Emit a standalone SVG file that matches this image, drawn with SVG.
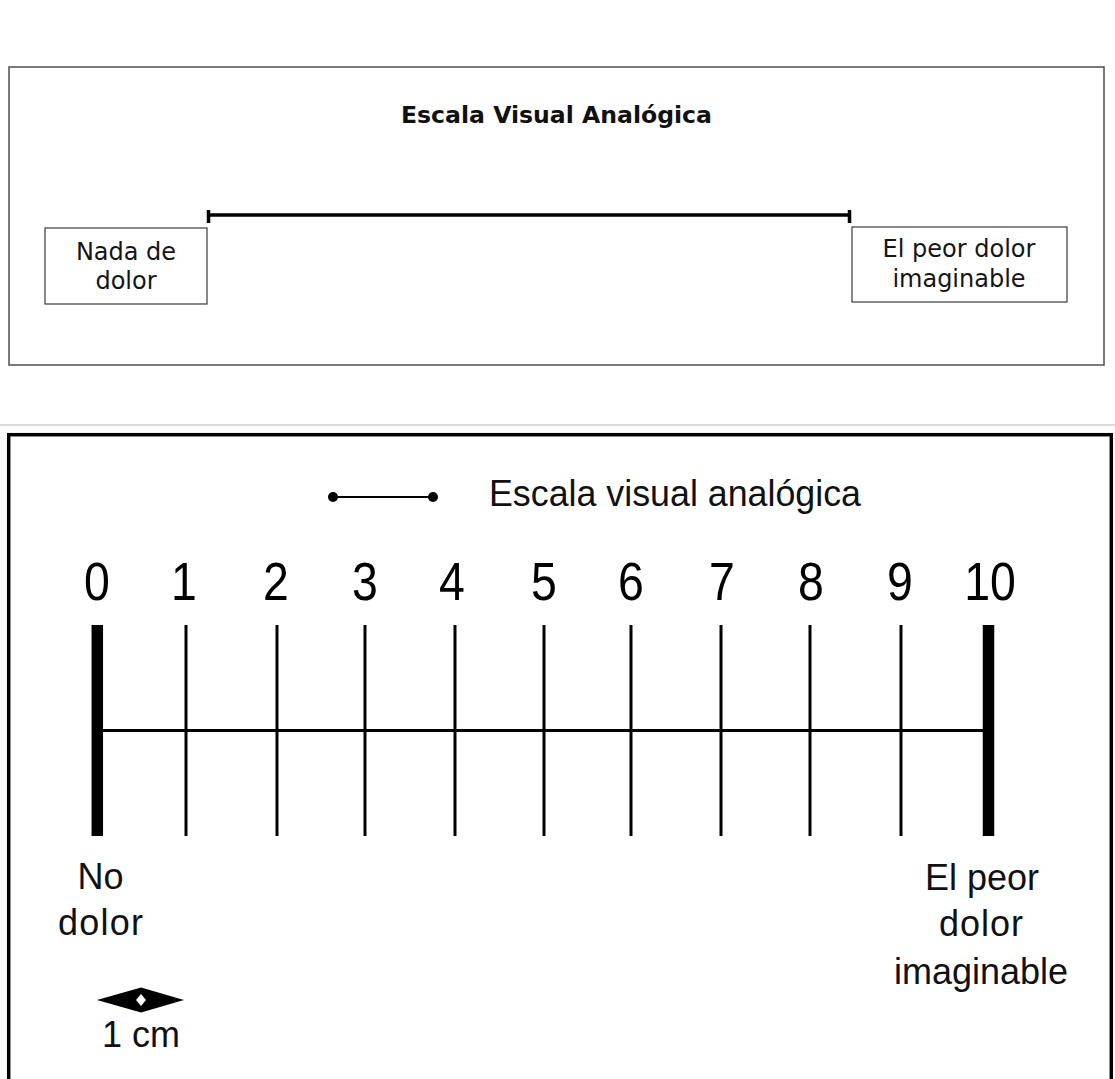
<svg xmlns="http://www.w3.org/2000/svg" width="1115" height="1079" viewBox="0 0 1115 1079">
  <style>
    .frame-top { fill: #ffffff; stroke: #5a5a5a; stroke-width: 1.6; }
    .label-box { fill: #ffffff; stroke: #3a3a3a; stroke-width: 1.2; }
    .sans-top { font-family: "DejaVu Sans", Verdana, sans-serif; font-size: 24px; fill: #151515; text-anchor: middle; }
    .title-top { font-family: "DejaVu Sans", Verdana, sans-serif; font-size: 23.5px; font-weight: bold; fill: #111111; text-anchor: middle; }
    .frame-bottom { fill: #ffffff; stroke: #000000; stroke-width: 3.5; }
    .num { font-family: "Liberation Sans", Arial, sans-serif; font-size: 54px; fill: #000000; text-anchor: middle; }
    .lbl { font-family: "Liberation Sans", Arial, sans-serif; font-size: 36px; fill: #111111; text-anchor: middle; }
    .tick { stroke: #000000; stroke-width: 3; }
    .tick-end { stroke: #000000; stroke-width: 11.5; }
  </style>

  <rect width="1115" height="1079" fill="#ffffff"/>

  <!-- Upper scale: simple line between two labelled boxes -->
  <g id="upper-panel">
    <rect class="frame-top" x="9" y="67" width="1095" height="298"/>
    <text class="title-top" x="556.5" y="123" textLength="311" lengthAdjust="spacingAndGlyphs">Escala Visual Analógica</text>
  </g>
  <g id="upper-left-label">
    <rect class="label-box" x="45" y="228" width="162" height="76"/>
    <text class="sans-top" x="126" y="260">Nada de</text>
    <text class="sans-top" x="126" y="289">dolor</text>
  </g>
  <g id="upper-right-label">
    <rect class="label-box" x="852" y="227" width="215" height="75"/>
    <text class="sans-top" x="959" y="257">El peor dolor</text>
    <text class="sans-top" x="959" y="287">imaginable</text>
  </g>
  <g id="upper-line" stroke="#000000">
    <line x1="208" y1="215" x2="850" y2="215" stroke-width="3.5"/>
    <line x1="208.5" y1="210" x2="208.5" y2="223" stroke-width="3.5"/>
    <line x1="849.5" y1="210" x2="849.5" y2="223" stroke-width="3.5"/>
  </g>

  <!-- Separator -->
  <line x1="0" y1="425" x2="1115" y2="425" stroke="#cfcfcf" stroke-width="1.5"/>

  <!-- Lower scale: numbered 0-10 ruler -->
  <g id="lower-panel">
    <rect class="frame-bottom" x="8.7" y="434.7" width="1102.6" height="700"/>
  </g>
  <g id="lower-title">
    <line x1="333" y1="497" x2="433" y2="497" stroke="#000000" stroke-width="2.2"/>
    <circle cx="333" cy="497" r="5" fill="#000000"/>
    <circle cx="433" cy="497" r="5" fill="#000000"/>
    <text class="lbl" x="675" y="506" font-size="43" textLength="372" lengthAdjust="spacingAndGlyphs">Escala visual analógica</text>
  </g>

  <!-- Scale numbers, slightly condensed -->
  <g id="numbers">
    <text class="num" transform="translate(97,600) scale(0.86,1)">0</text>
    <text class="num" transform="translate(184,600) scale(0.86,1)">1</text>
    <text class="num" transform="translate(276,600) scale(0.86,1)">2</text>
    <text class="num" transform="translate(365,600) scale(0.86,1)">3</text>
    <text class="num" transform="translate(452,600) scale(0.86,1)">4</text>
    <text class="num" transform="translate(544,600) scale(0.86,1)">5</text>
    <text class="num" transform="translate(631,600) scale(0.86,1)">6</text>
    <text class="num" transform="translate(722,600) scale(0.86,1)">7</text>
    <text class="num" transform="translate(811,600) scale(0.86,1)">8</text>
    <text class="num" transform="translate(900,600) scale(0.86,1)">9</text>
    <text class="num" transform="translate(990,600) scale(0.86,1)">10</text>
  </g>

  <g id="ruler">
    <line x1="103" y1="730.5" x2="983" y2="730.5" stroke="#000000" stroke-width="3"/>
    <line class="tick-end" x1="97.3" y1="625" x2="97.3" y2="836"/>
    <line class="tick" x1="186" y1="625" x2="186" y2="836"/>
    <line class="tick" x1="277" y1="625" x2="277" y2="836"/>
    <line class="tick" x1="365" y1="625" x2="365" y2="836"/>
    <line class="tick" x1="455" y1="625" x2="455" y2="836"/>
    <line class="tick" x1="544" y1="625" x2="544" y2="836"/>
    <line class="tick" x1="631" y1="625" x2="631" y2="836"/>
    <line class="tick" x1="721" y1="625" x2="721" y2="836"/>
    <line class="tick" x1="810" y1="625" x2="810" y2="836"/>
    <line class="tick" x1="901" y1="625" x2="901" y2="836"/>
    <line class="tick-end" x1="988.5" y1="625" x2="988.5" y2="836"/>
  </g>

  <g id="label-no-dolor">
    <text class="lbl" x="100.5" y="889">No</text>
    <text class="lbl" x="100.5" y="935" textLength="85" lengthAdjust="spacing">dolor</text>
  </g>
  <g id="label-peor-dolor">
    <text class="lbl" x="982" y="890">El peor</text>
    <text class="lbl" x="981" y="936" textLength="84" lengthAdjust="spacing">dolor</text>
    <text class="lbl" x="981" y="984">imaginable</text>
  </g>

  <g id="unit-marker">
    <polygon points="97,1000 141,987.5 184,1000 141,1012.5" fill="#000000"/>
    <polygon points="141,994 146,1000 141,1006 136,1000" fill="#ffffff"/>
    <text class="lbl" x="141" y="1047">1 cm</text>
  </g>
</svg>
